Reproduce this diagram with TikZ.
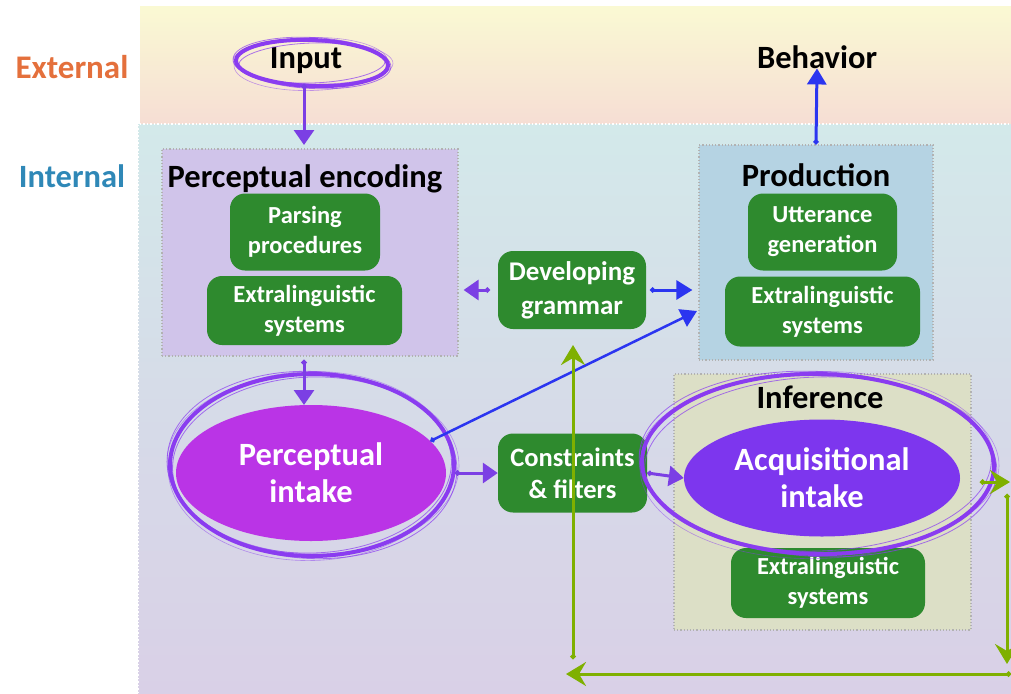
\documentclass[tikz,border=0pt]{standalone}
\usepackage{fontspec}
\setmainfont{Carlito}
\usetikzlibrary{arrows.meta,shapes.geometric,calc}
\definecolor{grn}{HTML}{2E8A2E}
\definecolor{purp}{HTML}{7B3FE4}
\definecolor{ringc}{HTML}{8A3CF0}
\definecolor{blu}{HTML}{2B35F0}
\definecolor{lime}{HTML}{7FB000}
\definecolor{pinkp}{HTML}{BA34E6}
\definecolor{violetp}{HTML}{7D36EE}
\definecolor{extc}{HTML}{E4703C}
\definecolor{intc}{HTML}{2F88B7}
\tikzset{
  gbox/.style={fill=grn, rounded corners=15pt, text=white, align=center, inner sep=0pt,
    font=\bfseries\fontsize{24.5}{30}\selectfont},
  container/.style={draw=#1!60!white, dotted, line width=1.2pt, inner sep=0pt},
  ttl/.style={font=\bfseries\fontsize{32.5}{34}\selectfont, text=black, inner sep=0pt, anchor=base},
  bigell/.style={ellipse, inner sep=0pt, text=white, align=center,
    font=\bfseries\fontsize{32.5}{37}\selectfont},
  ring/.style={ellipse, draw=ringc, line width=4pt, inner sep=0pt},
  parrow/.style={purp, line width=3pt, {Circle[length=5pt]}-{Triangle[width=20pt,length=15pt]}},
  barrow/.style={blu, line width=3pt, {Circle[length=5pt]}-{Triangle[width=19pt,length=16pt]}},
  garrow/.style={lime, line width=3pt, {Circle[length=5pt]}-{Stealth[width=24pt,length=20pt,inset=7pt]}},
}
\begin{document}
\begin{tikzpicture}[x=1pt,y=-1pt]
\useasboundingbox (0,0) rectangle (1011,693);
% bands
\fill[top color={rgb,255:red,250;green,249;blue,211}, bottom color={rgb,255:red,246;green,222;blue,212}] (140,7) rectangle (1011,123);
\fill[top color={rgb,255:red,211;green,233;blue,234}, bottom color={rgb,255:red,217;green,208;blue,231}, middle color={rgb,255:red,214;green,219;blue,232}] (138,124) rectangle (1011,693);
\draw[white, dotted, line width=1.5pt] (138,693) -- (138,124) -- (1011,124);
\node[font=\bfseries\fontsize{33}{35}\selectfont, text=extc, anchor=base, inner sep=0pt] (ext) at (72,78) {External};
\node[font=\bfseries\fontsize{32.5}{35}\selectfont, text=intc, anchor=base, inner sep=0pt] (int) at (72,187) {Internal};

% containers
\node[container=gray, fill={rgb,255:red,208;green,196;blue,234}, minimum width=296pt, minimum height=207pt] (pe) at (310,252.5) {};
\node[container=gray, fill={rgb,255:red,181;green,211;blue,227}, minimum width=234pt, minimum height=215pt] (prod) at (816,252.5) {};
\node[container=gray, fill={rgb,255:red,220;green,223;blue,198}, minimum width=297pt, minimum height=256pt] (inf) at (822.5,502) {};

% titles
\node[ttl] (input) at (306,69) {Input};
\node[ttl] (beh) at (817,68) {Behavior};
\node[ttl] (pet) at (305,187) {Perceptual encoding};
\node[ttl] (prt) at (816,186) {Production};
\node[ttl] (inft) at (820,408) {Inference};

% green boxes
\node[gbox, minimum width=150pt, minimum height=77pt] (pp) at (305,232) {Parsing\\procedures};
\node[gbox, minimum width=195pt, minimum height=69pt] (ex1) at (304.5,310.5) {Extralinguistic\\systems};
\node[gbox, minimum width=149pt, minimum height=77pt] (ug) at (822.5,232) {Utterance\\generation};
\node[gbox, minimum width=195pt, minimum height=70pt] (ex2) at (822.5,311.5) {Extralinguistic\\systems};
\node[gbox, minimum width=148pt, minimum height=78pt, font=\bfseries\fontsize{27}{34}\selectfont] (dg) at (572,290) {Developing\\grammar};
\node[gbox, minimum width=149pt, minimum height=79pt, font=\bfseries\fontsize{26.5}{32}\selectfont] (cf) at (572.5,473) {Constraints\\\&\ filters};
\node[gbox, minimum width=194pt, minimum height=70pt] (ex3) at (828,583) {Extralinguistic\\systems};

% ellipses
\node[bigell, fill=pinkp, minimum width=270pt, minimum height=136pt] (pi) at (311,473) {Perceptual\\intake};
\node[bigell, fill=violetp, minimum width=276pt, minimum height=117pt] (ai) at (822,478) {Acquisitional\\intake};

% scribbled rings
\node[ring, minimum width=152pt, minimum height=46pt, rotate=-2] (inring) at (312,63) {};
\node[ring, minimum width=284pt, minimum height=182pt] (piring) at (312,465) {};
\node[ring, minimum width=352pt, minimum height=180pt, rotate=-1] (airing) at (818,464) {};
\foreach \c/\a/\b/\r in {312/63/76/23, 312/465/142/91, 818/464/176/90}{
  \draw[ringc, line width=0.8pt, opacity=0.7, rotate around={-3:(\c,\a)}] (\c,\a) ellipse [x radius=\b+3, y radius=\r+2.5];
  \draw[ringc, line width=0.8pt, opacity=0.7, rotate around={2:(\c,\a)}] (\c,\a) ellipse [x radius=\b-2.5, y radius=\r-3];
  \draw[ringc, line width=0.6pt, opacity=0.5, rotate around={-1:(\c,\a)}] (\c+1,\a-1) ellipse [x radius=\b+4, y radius=\r-1];
  \draw[ringc, line width=0.6pt, opacity=0.5, rotate around={1.5:(\c,\a)}] (\c-1,\a+1) ellipse [x radius=\b+1, y radius=\r+3.5];
}

% coordinates
\coordinate (inS) at (304,84);
\coordinate (peN) at (304,145);
\coordinate (peS) at (304,360);
\coordinate (piN) at (304,405);
\coordinate (piE) at (455,473);
\coordinate (prodIn) at (697,311);
\coordinate (g0) at (980,482);
\coordinate (g1) at (1010,482);
\coordinate (g2) at (1007,494);
\coordinate (g3) at (1007,664);
\coordinate (g4) at (1011,674);
\coordinate (g5) at (566,674);
\coordinate (g6) at (573,659);
\coordinate (g7) at (573,345);

% connectors
\draw[parrow] (inS) -- (peN);
\draw[parrow] (peS) -- (piN);
\draw[parrow] (piE) -- (cf.west);
\draw[parrow] (cf.east) -- (ai.west);
\draw[parrow, shorten <=8pt, shorten >=5pt] (dg.west) -- (pe.east |- dg.west);
\draw[barrow, shorten <=4pt, shorten >=6pt] (dg.east) -- (prod.west |- dg.east);
\draw[barrow, line width=2.5pt] (pi.15.5) -- (prodIn);
\draw[barrow] (prod.north) -- (beh.south);
\draw[garrow] (g0) -- (g1);
\draw[garrow] (g2) -- (g3);
\draw[garrow] (g4) -- (g5);
\draw[garrow] (g6) -- (g7);
\end{tikzpicture}
\end{document}
